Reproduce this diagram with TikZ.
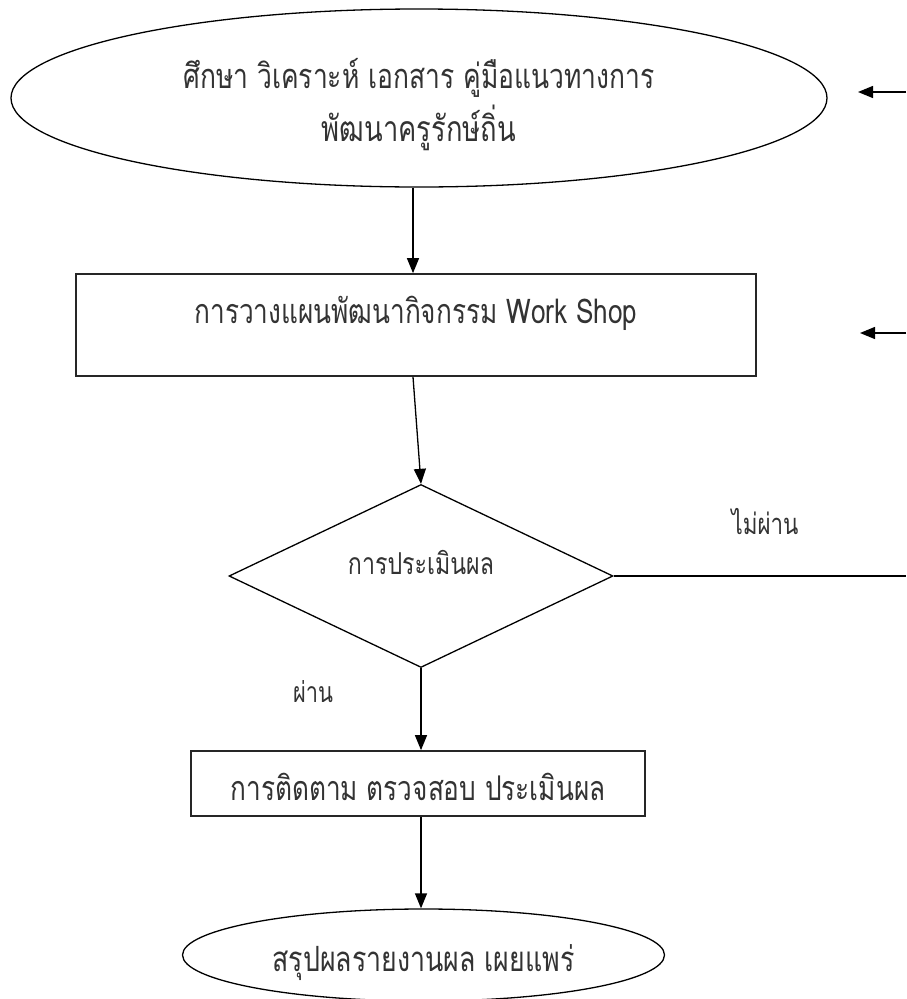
\documentclass[tikz,border=0pt]{standalone}
\usepackage{fontspec}
\usepackage{graphicx}
\newfontfamily\thaifont[Script=Thai]{Loma}
\usetikzlibrary{shapes.geometric,arrows.meta,calc}
% #1 target width, #2 raise of baseline above node centre, #3 text
\newcommand{\thstretch}[1]{\scalebox{1}[1.3]{#1}}
\newcommand{\fitline}[3]{\raisebox{#2pt}[0pt][0pt]{\makebox[0pt]{\thstretch{\resizebox{#1pt}{!}{\thaifont #3}}}}}
\begin{document}
\begin{tikzpicture}[x=1pt,y=-1pt,
  boxnode/.style={rectangle, draw=black!85, line width=1.7pt, inner sep=0pt, text=black!80},
  ellnode/.style={ellipse, draw=black, line width=1.3pt, inner sep=0pt, text=black!80},
  decnode/.style={diamond, draw=black, line width=1.3pt, inner sep=0pt, text=black!80},
  lbl/.style={inner sep=0pt, text=black!80},
  arr/.style={line width=1.3pt, -{Triangle[length=15pt,width=12pt]}},
  plainline/.style={line width=1.3pt}]
\fill[white] (0,0) rectangle (906,999);
\useasboundingbox (0,0) rectangle (906,999);

\node[ellnode, minimum width=816pt, minimum height=178pt] (e1) at (419,98)
  {\fitline{471}{10}{ศึกษา วิเคราะห์ เอกสาร คู่มือแนวทางการ}\fitline{194}{-43}{พัฒนาครูรักษ์ถิ่น}};
\node[boxnode, minimum width=680pt, minimum height=102pt] (r1) at (416,325)
  {\fitline{443}{2}{การวางแผนพัฒนากิจกรรม Work Shop}};
\node[decnode, minimum width=384pt, minimum height=183pt] (dia) at (421,576)
  {\fitline{146}{2}{การประเมินผล}};
\node[boxnode, minimum width=454pt, minimum height=65pt] (r2) at (418,783.5)
  {\fitline{375}{-17}{การติดตาม ตรวจสอบ ประเมินผล}};
\node[ellnode, minimum width=482pt, minimum height=92pt] (e2) at (423.5,955)
  {\fitline{302}{-16}{สรุปผลรายงานผล เผยแพร่}};

\node[lbl, anchor=base] (no) at (765,534) {\thstretch{\resizebox{67pt}{!}{\thaifont ไม่ผ่าน}}};
\node[lbl, anchor=base] (yes) at (313,702) {\thstretch{\resizebox{40pt}{!}{\thaifont ผ่าน}}};

\coordinate (in1) at (906,92);
\coordinate (tip1) at (858,92);
\coordinate (in2) at (906,333);
\coordinate (tip2) at (860,333);
\coordinate (out1) at (906,576);

\draw[arr] ($(e1.south)+(-6,0)$) -- ($(r1.north)+(-3,0)$);
\draw[arr] ($(r1.south)+(-3,0)$) -- (dia.north);
\draw[arr] (dia.south) -- (dia.south |- r2.north);
\draw[arr] (r2.south -| dia.south) -- (e2.north -| dia.south);
\draw[plainline] (dia.east) -- (out1);
\draw[arr] (in1) -- (tip1);
\draw[arr] (in2) -- (tip2);
\end{tikzpicture}
\end{document}
